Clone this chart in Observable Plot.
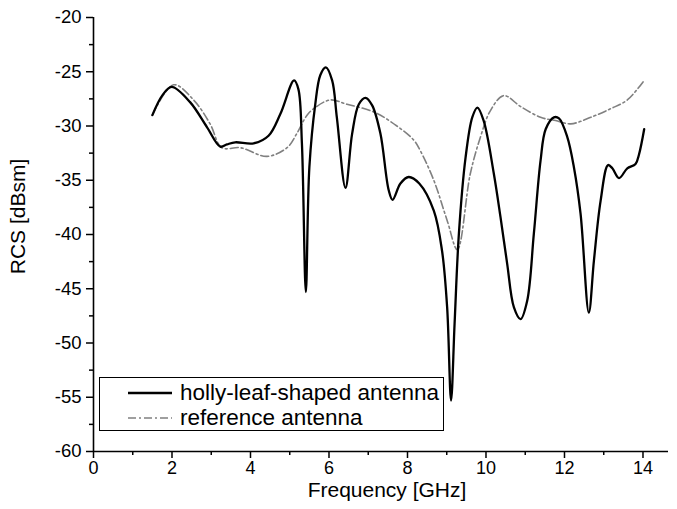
<!DOCTYPE html>
<html><head><meta charset="utf-8">
<script src="https://cdn.jsdelivr.net/npm/d3@7"></script>
<script src="https://cdn.jsdelivr.net/npm/@observablehq/plot@0.6"></script>
<style>
body{margin:0;background:#fff;}
#wrap{position:relative;width:677px;height:509px;font-family:"Liberation Sans",Arial,sans-serif;color:#000;}
#legend{position:absolute;left:99px;top:377px;width:345px;height:54px;box-sizing:border-box;border:1.4px solid #000;background:#fff;}
#legend .row{position:absolute;left:0;height:24px;display:flex;align-items:center;font-size:22.5px;white-space:nowrap;}
#legend svg{margin-left:28px;margin-right:8px;}
</style></head>
<body><div id="wrap"></div>
<script>
const seriesNames = ["holly-leaf-shaped antenna", "reference antenna"];
const hollyFreq = [1.50,1.75,1.99,2.46,2.89,3.23,3.40,3.61,4.08,4.46,4.76,5.11,5.22,5.31,5.41,5.50,5.65,5.78,5.92,6.08,6.20,6.42,6.59,6.76,6.93,7.10,7.31,7.52,7.62,7.82,8.03,8.30,8.67,8.88,9.01,9.11,9.20,9.31,9.48,9.65,9.78,9.94,10.20,10.37,10.54,10.71,10.88,11.05,11.22,11.39,11.52,11.73,11.86,12.07,12.24,12.41,12.62,12.75,12.92,13.11,13.22,13.39,13.60,13.81,13.90,14.03];
const hollyRcs = [-29.0,-27.2,-26.4,-27.8,-30.1,-31.9,-31.7,-31.5,-31.6,-30.9,-28.9,-25.8,-26.6,-31.6,-45.3,-33.8,-28.0,-25.3,-24.6,-25.8,-29.2,-35.7,-30.7,-28.0,-27.4,-28.1,-30.7,-35.9,-36.8,-35.3,-34.7,-35.3,-37.8,-41.5,-46.7,-55.3,-48.2,-39.9,-32.9,-29.2,-28.3,-29.5,-34.4,-38.4,-42.7,-46.7,-47.8,-46.1,-39.9,-33.2,-30.3,-29.2,-29.3,-31.0,-33.8,-38.1,-47.2,-42.4,-36.9,-33.6,-33.9,-34.8,-33.9,-33.5,-32.6,-30.3];
const refFreq = [1.50,2.04,2.55,2.97,3.27,3.74,4.42,4.93,5.18,5.44,5.61,6.03,6.46,7.14,7.73,8.16,8.33,8.67,9.01,9.27,9.60,9.86,10.11,10.45,10.88,11.39,11.77,12.16,12.67,13.18,13.60,14.03];
const refRcs = [-29.0,-26.2,-27.6,-29.8,-32.0,-32.0,-32.8,-32.0,-30.7,-29.0,-28.4,-27.6,-28.0,-28.7,-30.0,-31.3,-32.3,-35.0,-38.7,-41.4,-34.4,-31.0,-28.6,-27.2,-28.2,-29.2,-29.5,-29.8,-29.2,-28.4,-27.6,-25.8];
const xMajorTicks = [0,2,4,6,8,10,12,14];
const xMinorTicks = [1,3,5,7,9,11,13];
const yMajorTicks = [-60,-55,-50,-45,-40,-35,-30,-25,-20];
const yMinorTicks = [-57.5,-52.5,-47.5,-42.5,-37.5,-32.5,-27.5,-22.5];
const xTitle = "Frequency [GHz]";
const yTitle = "RCS [dBsm]";

const holly = hollyFreq.map((f, i) => ({f, v: hollyRcs[i]}));
const ref = refFreq.map((f, i) => ({f, v: refRcs[i]}));
const font = '"Liberation Sans", Arial, sans-serif';

const chart = Plot.plot({
  width: 677, height: 509,
  marginLeft: 93, marginRight: 9, marginTop: 17, marginBottom: 58,
  style: {fontFamily: font, fontSize: "18px", background: "#fff", color: "#000", overflow: "visible"},
  x: {domain: [0, 14.65]},
  y: {domain: [-60, -20]},
  marks: [
    Plot.axisX(xMajorTicks, {tickSize: 7, tickPadding: 3, fontSize: 18, label: null, tickFormat: d => String(d), strokeWidth: 1.5}),
    Plot.axisX(xMinorTicks, {tickSize: 4, label: null, tickFormat: () => "", strokeWidth: 1.5}),
    Plot.axisY(yMajorTicks, {tickSize: 7, tickPadding: 5, fontSize: 18.5, label: null, tickFormat: d => String(d), strokeWidth: 1.5}),
    Plot.axisY(yMinorTicks, {tickSize: 4, label: null, tickFormat: () => "", strokeWidth: 1.5}),
    Plot.ruleY([-60], {stroke: "#000", strokeWidth: 1.6}),
    Plot.ruleX([0], {stroke: "#000", strokeWidth: 1.6}),
    Plot.line(ref, {x: "f", y: "v", stroke: "#808080", strokeWidth: 1.6, strokeDasharray: "8,3,2,3", curve: "catmull-rom"}),
    Plot.line(holly, {x: "f", y: "v", stroke: "#000", strokeWidth: 2.3, curve: "catmull-rom"}),
    Plot.text([xTitle], {frameAnchor: "bottom", dy: 45, dx: 6, fontSize: 21, fill: "#000"}),
    Plot.text([yTitle], {frameAnchor: "left", textAnchor: "middle", dx: -75, dy: -18, rotate: -90, fontSize: 21, fill: "#000"})
  ]
});
const wrap = document.getElementById("wrap");
wrap.appendChild(chart);

const legend = document.createElement("div");
legend.id = "legend";
const styles = [
  {stroke: "#000", width: 2.3, dash: null},
  {stroke: "#808080", width: 1.6, dash: "8,3,2,3"}
];
seriesNames.forEach((name, i) => {
  const row = document.createElement("div");
  row.className = "row";
  row.style.top = (i === 0 ? 3 : 28) + "px";
  const s = styles[i];
  row.innerHTML = `<svg width="44" height="6"><line x1="0" x2="44" y1="3" y2="3" stroke="${s.stroke}" stroke-width="${s.width}" ${s.dash ? `stroke-dasharray="${s.dash}"` : ""}/></svg><span>${name}</span>`;
  legend.appendChild(row);
});
wrap.appendChild(legend);
</script>
</body></html>
